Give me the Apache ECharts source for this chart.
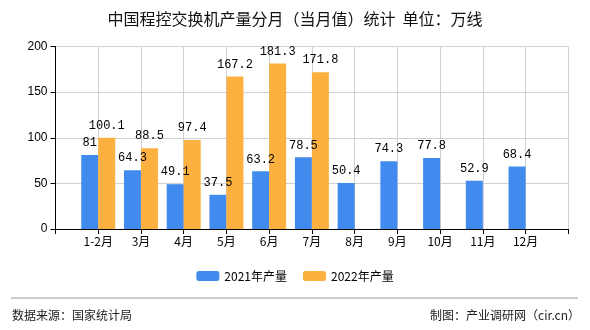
<!DOCTYPE html>
<html>
<head>
<meta charset="utf-8">
<script src="https://cdn.jsdelivr.net/npm/echarts@6/dist/echarts.min.js"></script>
<style>
html,body{margin:0;padding:0;background:#fff;}
#c{width:590px;height:330px;}
</style>
</head>
<body>
<div id="c"></div>
<script>
var categories = ['1-2月','3月','4月','5月','6月','7月','8月','9月','10月','11月','12月'];
var values2021 = [81, 64.3, 49.1, 37.5, 63.2, 78.5, 50.4, 74.3, 77.8, 52.9, 68.4];
var values2022 = [100.1, 88.5, 97.4, 167.2, 181.3, 171.8, null, null, null, null, null];
var seriesNames = ['2021年产量', '2022年产量'];
var yTicks = {min: 0, max: 200, interval: 50};

var axisData = [''].concat(categories, ['']);
function pad(arr){ return ['-'].concat(arr.map(function(v){return v==null?'-':v;}), ['-']); }

var font = '"Noto Sans CJK SC", "Liberation Sans", sans-serif';
var chart = echarts.init(document.getElementById('c'), null, {renderer:'canvas'});
var lbl = {show:true, position:'top', distance:6, color:'#000', fontSize:12, fontFamily:'"Liberation Mono", monospace'};
chart.setOption({
  animation:false,
  backgroundColor:'#fff',
  title:{text:'中国程控交换机产量分月（当月值）统计  单位：万线', left:'center', top:6,
    textStyle:{fontSize:16, fontWeight:'normal', color:'#111', fontFamily:font}},
  legend:{bottom:43, left:'center', itemWidth:23, itemHeight:10, itemGap:16,
    textStyle:{fontSize:12, color:'#000', fontFamily:font},
    data:seriesNames},
  grid:{left:55.5, right:21.7, top:46.5, bottom:101},
  xAxis:{type:'category', data:axisData, boundaryGap:false,
    axisLine:{lineStyle:{color:'#000'}},
    axisTick:{show:true, length:5, lineStyle:{color:'#000'}, alignWithLabel:true},
    axisLabel:{color:'#000', fontSize:12, fontFamily:font, margin:6, interval:0},
    splitLine:{show:true, lineStyle:{color:'#d0d0d0'}}},
  yAxis:{type:'value', min:yTicks.min, max:yTicks.max, interval:yTicks.interval,
    axisLine:{show:true, lineStyle:{color:'#000'}},
    axisTick:{show:true, length:5, lineStyle:{color:'#000'}},
    axisLabel:{color:'#000', fontSize:12, fontFamily:'"Liberation Sans", sans-serif', margin:8},
    splitLine:{lineStyle:{color:'#d0d0d0'}}},
  series:[
    {name:seriesNames[0], type:'bar', data:pad(values2021), barWidth:17, barGap:'0%',
      itemStyle:{color:'#428bee'}, label:lbl},
    {name:seriesNames[1], type:'bar', data:pad(values2022), barWidth:17, barGap:'0%',
      itemStyle:{color:'#fbb040'}, label:lbl}
  ],
  graphic:[
    {type:'line', shape:{x1:11, y1:298, x2:578, y2:298}, style:{stroke:'#999', lineWidth:1}},
    {type:'text', left:12, top:309, style:{text:'数据来源：国家统计局', fontSize:12, fill:'#222', fontFamily:font}},
    {type:'text', right:10, top:309, style:{text:'制图：产业调研网（cir.cn）', fontSize:12, fill:'#222', fontFamily:font}}
  ]
});
</script>
</body>
</html>
